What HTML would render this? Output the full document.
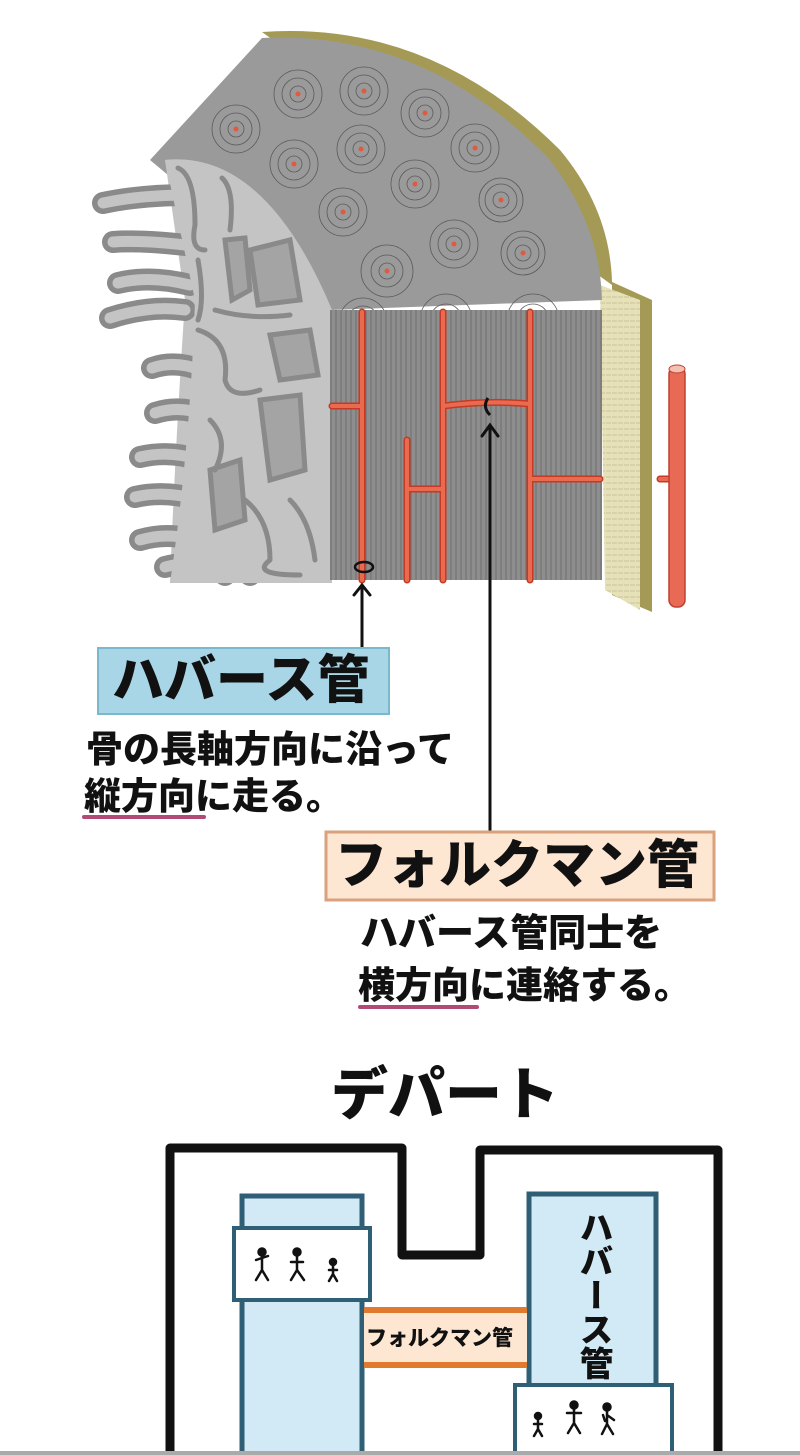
<!DOCTYPE html>
<html><head><meta charset="utf-8"><style>
html,body{margin:0;padding:0;background:#fff;}
body{width:800px;height:1455px;overflow:hidden;position:relative;font-family:"Liberation Sans","Noto Sans CJK JP",sans-serif;}
.t{position:absolute;font-weight:900;color:#111;white-space:nowrap;}
</style></head><body>
<svg width="800" height="1455" style="position:absolute;left:0;top:0">
<defs>
<pattern id="str" width="5" height="10" patternUnits="userSpaceOnUse"><rect width="5" height="10" fill="#8e8e8e"/><line x1="1" y1="0" x2="1" y2="10" stroke="#6e6e6e" stroke-width="1"/></pattern>
<pattern id="tan" width="6" height="6" patternUnits="userSpaceOnUse"><rect width="6" height="6" fill="#e6e1b8"/><line x1="0" y1="3" x2="5" y2="3" stroke="#c9c397" stroke-width="1"/></pattern>
</defs>
<!-- olive rim -->
<path d="M262,32 Q430,20 560,150 Q610,210 612,282 L652,300 L652,612 L612,595 L612,285" fill="#a49a55"/>
<path d="M600,285 L640,300 L640,610 L605,590 Z" fill="url(#tan)"/>
<!-- gray quarter disc -->
<path d="M262,38 Q425,30 550,160 Q600,225 602,300 L330,310 L150,160 Z" fill="#9a9a9a"/>
<g fill="none" stroke="#5a5a5a" stroke-width="0.8">
<circle cx="298" cy="94" r="8"/><circle cx="298" cy="94" r="16"/><circle cx="298" cy="94" r="24"/>
<circle cx="364" cy="91" r="8"/><circle cx="364" cy="91" r="16"/><circle cx="364" cy="91" r="24"/>
<circle cx="236" cy="129" r="8"/><circle cx="236" cy="129" r="16"/><circle cx="236" cy="129" r="24"/>
<circle cx="294" cy="164" r="8"/><circle cx="294" cy="164" r="16"/><circle cx="294" cy="164" r="24"/>
<circle cx="361" cy="149" r="8"/><circle cx="361" cy="149" r="16"/><circle cx="361" cy="149" r="24"/>
<circle cx="425" cy="113" r="8"/><circle cx="425" cy="113" r="16"/><circle cx="425" cy="113" r="24"/>
<circle cx="475" cy="148" r="8"/><circle cx="475" cy="148" r="16"/><circle cx="475" cy="148" r="24"/>
<circle cx="415" cy="184" r="8"/><circle cx="415" cy="184" r="16"/><circle cx="415" cy="184" r="24"/>
<circle cx="343" cy="212" r="8"/><circle cx="343" cy="212" r="16"/><circle cx="343" cy="212" r="24"/>
<circle cx="501" cy="200" r="8"/><circle cx="501" cy="200" r="16"/><circle cx="501" cy="200" r="22"/>
<circle cx="454" cy="244" r="8"/><circle cx="454" cy="244" r="16"/><circle cx="454" cy="244" r="24"/>
<circle cx="523" cy="253" r="8"/><circle cx="523" cy="253" r="16"/><circle cx="523" cy="253" r="22"/>
<circle cx="387" cy="271" r="8"/><circle cx="387" cy="271" r="16"/><circle cx="387" cy="271" r="26"/>
<circle cx="363" cy="322" r="16"/><circle cx="363" cy="322" r="24"/>
<circle cx="446" cy="320" r="16"/><circle cx="446" cy="320" r="26"/>
<circle cx="533" cy="320" r="16"/><circle cx="533" cy="320" r="26"/>
</g>
<g fill="#e05a40">
<circle cx="298" cy="94" r="2.5"/><circle cx="364" cy="91" r="2.5"/><circle cx="236" cy="129" r="2.5"/><circle cx="294" cy="164" r="2.5"/><circle cx="361" cy="149" r="2.5"/><circle cx="425" cy="113" r="2.5"/><circle cx="475" cy="148" r="2.5"/><circle cx="415" cy="184" r="2.5"/><circle cx="343" cy="212" r="2.5"/><circle cx="501" cy="200" r="2.5"/><circle cx="454" cy="244" r="2.5"/><circle cx="523" cy="253" r="2.5"/><circle cx="387" cy="271" r="2.5"/>
</g>
<!-- spongy region -->
<path d="M165,160 Q265,150 332,310 L332,583 L170,583 Q175,450 185,300 Z" fill="#c4c4c4"/>
<g fill="none" stroke-linecap="round" stroke-linejoin="round">
<g stroke="#8a8a8a" stroke-width="22">
<path d="M103,203 Q140,195 190,195"/>
<path d="M113,242 Q140,240 185,245"/>
<path d="M118,283 Q150,275 190,285"/>
<path d="M110,318 Q150,305 185,310"/>
<path d="M152,368 Q175,360 200,370"/>
<path d="M155,413 Q180,405 205,415"/>
<path d="M140,457 Q170,450 200,460"/>
<path d="M135,497 Q165,490 200,500"/>
<path d="M140,540 Q175,530 205,545"/>
<path d="M165,567 Q190,560 215,570"/>
<path d="M225,575 Q240,560 250,575"/>
</g>
<g stroke="#c4c4c4" stroke-width="11">
<path d="M103,203 Q140,195 190,195"/>
<path d="M113,242 Q140,240 185,245"/>
<path d="M118,283 Q150,275 190,285"/>
<path d="M110,318 Q150,305 185,310"/>
<path d="M152,368 Q175,360 200,370"/>
<path d="M155,413 Q180,405 205,415"/>
<path d="M140,457 Q170,450 200,460"/>
<path d="M135,497 Q165,490 200,500"/>
<path d="M140,540 Q175,530 205,545"/>
<path d="M165,567 Q190,560 215,570"/>
<path d="M225,575 Q240,560 250,575"/>
</g>
</g>
<path d="M165,160 Q265,150 332,310 L332,583 L170,583 Q190,450 195,300 Z" fill="#c4c4c4"/>
<g fill="#a4a4a4" stroke="#8a8a8a" stroke-width="5">
<path d="M250,250 L290,240 L300,300 L258,305 Z"/>
<path d="M270,335 L310,330 L318,375 L280,380 Z"/>
<path d="M225,240 L245,238 L250,290 L232,300 Z"/>
<path d="M260,400 L300,395 L305,470 L270,480 Z"/>
<path d="M210,470 L240,460 L245,520 L215,530 Z"/>
</g>
<g fill="none" stroke="#8a8a8a" stroke-width="5" stroke-linecap="round" stroke-linejoin="round">
<path d="M178,168 Q195,175 195,225 Q190,250 205,250"/>
<path d="M222,178 Q235,190 230,230"/>
<path d="M215,310 Q250,320 290,315"/>
<path d="M198,330 Q230,340 225,380 Q230,400 260,390"/>
<path d="M210,420 Q230,440 215,470"/>
<path d="M245,500 Q270,520 270,560 Q250,575 300,575"/>
<path d="M290,500 Q310,520 315,560"/>
<path d="M198,260 Q205,300 198,320"/>
</g>
<!-- striated block -->
<rect x="330" y="310" width="272" height="270" fill="url(#str)"/>
<!-- vessels -->
<g fill="none" stroke="#c43a24" stroke-width="7" stroke-linecap="round"><path d="M362,312 V580 M443,312 V580 M530,312 V580 M407,440 V580 M332,406 H362 M443,406 Q490,400 530,404 M407,489 H443 M530,479 H600 M660,479 H672"/></g>
<g fill="none" stroke="#ea6a50" stroke-width="4" stroke-linecap="round"><path d="M362,312 V580 M443,312 V580 M530,312 V580 M407,440 V580 M332,406 H362 M443,406 Q490,400 530,404 M407,489 H443 M530,479 H600 M660,479 H672"/></g>
<rect x="669" y="367" width="16" height="240" rx="7" fill="#e86a55" stroke="#c04030" stroke-width="1.5"/>
<ellipse cx="677" cy="369" rx="8" ry="4" fill="#f5c0b0" stroke="#c04030"/>
<ellipse cx="364" cy="567" rx="9" ry="5" fill="none" stroke="#111" stroke-width="2.5"/>
<path d="M488,398 Q482,407 490,415" fill="none" stroke="#111" stroke-width="3"/>
<g stroke="#111" stroke-width="3" fill="none" stroke-linecap="round"><path d="M362,648 V585 M354,595 L362,585 L370,595"/><path d="M490,832 V425 M482,436 L490,425 L498,436"/></g>
<rect x="98" y="648" width="291" height="66" fill="#a8d6e6" stroke="#7ab8cc" stroke-width="2"/>
<rect x="326" y="832" width="388" height="68" fill="#fde6d2" stroke="#d9a17c" stroke-width="3"/>
<line x1="84" y1="817" x2="204" y2="817" stroke="#b24a78" stroke-width="4" stroke-linecap="round"/>
<line x1="360" y1="1007" x2="477" y2="1007" stroke="#b24a78" stroke-width="4" stroke-linecap="round"/>
<!-- building -->
<path d="M170,1455 V1148 H402 V1255 H480 V1150 H718 V1455" fill="none" stroke="#111" stroke-width="9" stroke-linejoin="round"/>
<rect x="242" y="1196" width="120" height="265" fill="#d2eaf6" stroke="#2e5f75" stroke-width="5"/>
<rect x="234" y="1228" width="136" height="72" fill="#fff" stroke="#2e5f75" stroke-width="4"/>
<rect x="529" y="1194" width="127" height="196" fill="#d2eaf6" stroke="#2e5f75" stroke-width="5"/>
<rect x="515" y="1385" width="157" height="75" fill="#fff" stroke="#2e5f75" stroke-width="4"/>
<rect x="364" y="1310" width="163" height="56" fill="#fde6d2"/>
<rect x="364" y="1307" width="163" height="6" fill="#e07a2e"/>
<rect x="364" y="1362" width="163" height="6" fill="#e07a2e"/>
<g stroke="#111" stroke-width="2.5" fill="none" stroke-linecap="round">
<g transform="translate(262,1252)"><circle cx="0" cy="0" r="3.5" fill="#111"/><path d="M0,3 V18 M-6,8 L6,4 M0,18 L-6,28 M0,18 L6,28"/></g>
<g transform="translate(297,1252)"><circle cx="0" cy="0" r="3.5" fill="#111"/><path d="M0,3 V18 M-6,10 L6,10 M0,18 L-6,28 M0,18 L7,28"/></g>
<g transform="translate(333,1262)"><circle cx="0" cy="0" r="3" fill="#111"/><path d="M0,3 V12 M-4,8 L4,8 M0,12 L-4,19 M0,12 L4,19"/></g>
<g transform="translate(538,1416)"><circle cx="0" cy="0" r="3" fill="#111"/><path d="M0,3 V13 M-4,8 L4,8 M0,13 L-4,20 M0,13 L4,20"/></g>
<g transform="translate(574,1405)"><circle cx="0" cy="0" r="3.5" fill="#111"/><path d="M0,3 V18 M-7,8 L7,8 M0,18 L-6,28 M0,18 L6,28"/></g>
<g transform="translate(607,1407)"><circle cx="0" cy="0" r="3.5" fill="#111"/><path d="M0,3 V17 M0,8 L7,13 M-4,8 L-2,14 M0,17 L-5,27 M0,17 L6,27"/></g>
</g>
<rect x="0" y="1451" width="800" height="4" fill="#aaa"/>
</svg>
<div class="t" style="left:112px;top:648px;font-size:52px;line-height:66px;">ハバース管</div>
<div class="t" style="left:86px;top:730px;font-size:37px;line-height:40px;">骨の長軸方向に沿って</div>
<div class="t" style="left:84px;top:777px;font-size:37px;line-height:40px;">縦方向に走る。</div>
<div class="t" style="left:335px;top:832px;font-size:52px;line-height:68px;">フォルクマン管</div>
<div class="t" style="left:360px;top:914px;font-size:38px;line-height:40px;">ハバース管同士を</div>
<div class="t" style="left:358px;top:966px;font-size:37px;line-height:40px;">横方向に連絡する。</div>
<div class="t" style="left:331px;top:1060px;font-size:57px;line-height:70px;">デパート</div>
<div class="t" style="left:366px;top:1324px;font-size:21px;line-height:30px;">フォルクマン管</div>
<div class="t" style="left:572px;top:1210px;font-size:34px;line-height:42px;writing-mode:vertical-rl;">ハバース管</div>
</body></html>
